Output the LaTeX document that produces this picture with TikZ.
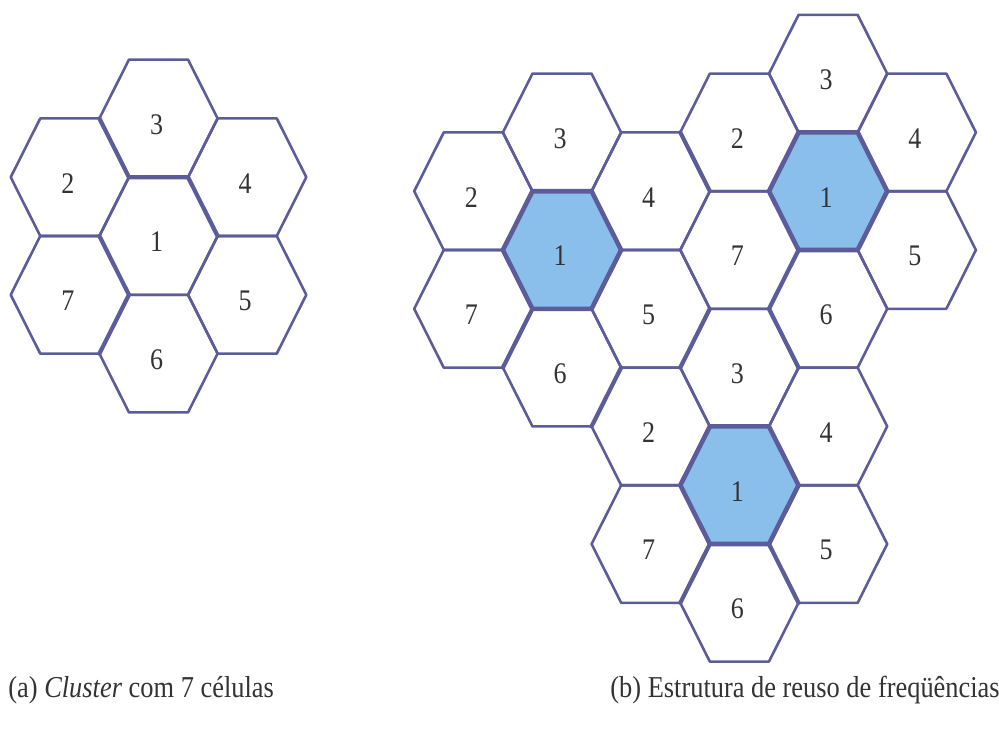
\documentclass[tikz,border=0pt]{standalone}
\usepackage{fontspec}
\setmainfont{Liberation Serif}
\usepackage{graphicx}

\definecolor{hexline}{RGB}{92,92,154}
\definecolor{reuse}{RGB}{138,190,235}
\newcommand{\tall}[1]{\scalebox{1}[1.15]{#1}}

\tikzset{
  hexcell/.pic={\path[pic actions] (59.1,0) -- (29.55,58.8) -- (-29.55,58.8)
    -- (-59.1,0) -- (-29.55,-58.8) -- (29.55,-58.8) -- cycle;},
  cell/.style={draw=hexline, line width=1.3pt, line join=round},
  cochannel/.style={draw=hexline, fill=reuse, line width=2.3pt, line join=round},
  seam/.style={draw=hexline, line width=2.1pt, line cap=round},
  num/.style={font=\fontsize{13}{15}\selectfont, text=black!80, xshift=-1pt, yshift=-3pt},
  caption/.style={font=\fontsize{13.2}{15}\selectfont, text=black!80, anchor=west, inner sep=0pt}
}

\begin{document}
\begin{tikzpicture}[x=0.5pt, y=-0.5pt]
    \useasboundingbox (0,0) rectangle (999,740);

    % (a) Cluster with 7 cells
    \begin{scope}[shift={(158.5,236)}]
        \foreach \c/\r/\n in {0/0/1, 0/-2/3, 0/2/6, -1/-1/2, 1/-1/4, -1/1/7, 1/1/5} {
            \pic[cell] at (\c*88.7, \r*58.8) {hexcell};
            \node[num] (a\n) at (\c*88.7, \r*58.8) {\tall{\n}};
        }
        % doubled edges
        \draw[seam] (-59.1,-117.6) -- (-29.55,-58.8) -- (29.55,-58.8) -- (59.1,0);
        \draw[seam] (-59.1,0) -- (-29.55,58.8) -- (-59.1,117.6);
    \end{scope}

    % (b) Three clusters, cell 1 reused
    \foreach \k/\cx/\cy in {A/562/250, B/828.1/191.2, C/739.4/485.2} {
        \begin{scope}[shift={(\cx,\cy)}]
            \foreach \c/\r in {0/-2, 0/2, -1/-1, 1/-1, -1/1, 1/1}
                \pic[cell] at (\c*88.7, \r*58.8) {hexcell};
            \pic[cochannel] at (0,0) {hexcell};
            \foreach \c/\r/\n in {0/0/1, 0/-2/3, 0/2/6, -1/-1/2, 1/-1/4, -1/1/7, 1/1/5}
                \node[num] (\k\n) at (\c*88.7, \r*58.8) {\tall{\n}};
        \end{scope}
    }

    % doubled edges between clusters
    \begin{scope}[shift={(562,250)}]
        \draw[seam] (-29.55,58.8) -- (-59.1,117.6);
        \draw[seam] (59.1,117.6) -- (29.55,176.4);
        \draw[seam] (147.8,58.8) -- (118.25,117.6);
        \draw[seam] (118.3,-117.6) -- (147.85,-58.8);
        \draw[seam] (236.55,0) -- (207,58.8);
    \end{scope}
    \begin{scope}[shift={(739.4,485.2)}]
        \draw[seam] (-29.55,58.8) -- (-59.1,117.6);
        \draw[seam] (29.55,58.8) -- (59.1,117.6);
        \draw[seam] (29.55,-176.4) -- (59.1,-117.6);
    \end{scope}

    % Captions
    \node[caption] (capa) at (8,690) {\tall{(a) \textit{Cluster} com 7 células}};
    \node[caption] (capb) at (610,690) {\tall{(b) Estrutura de reuso de freqüências}};
\end{tikzpicture}
\end{document}
